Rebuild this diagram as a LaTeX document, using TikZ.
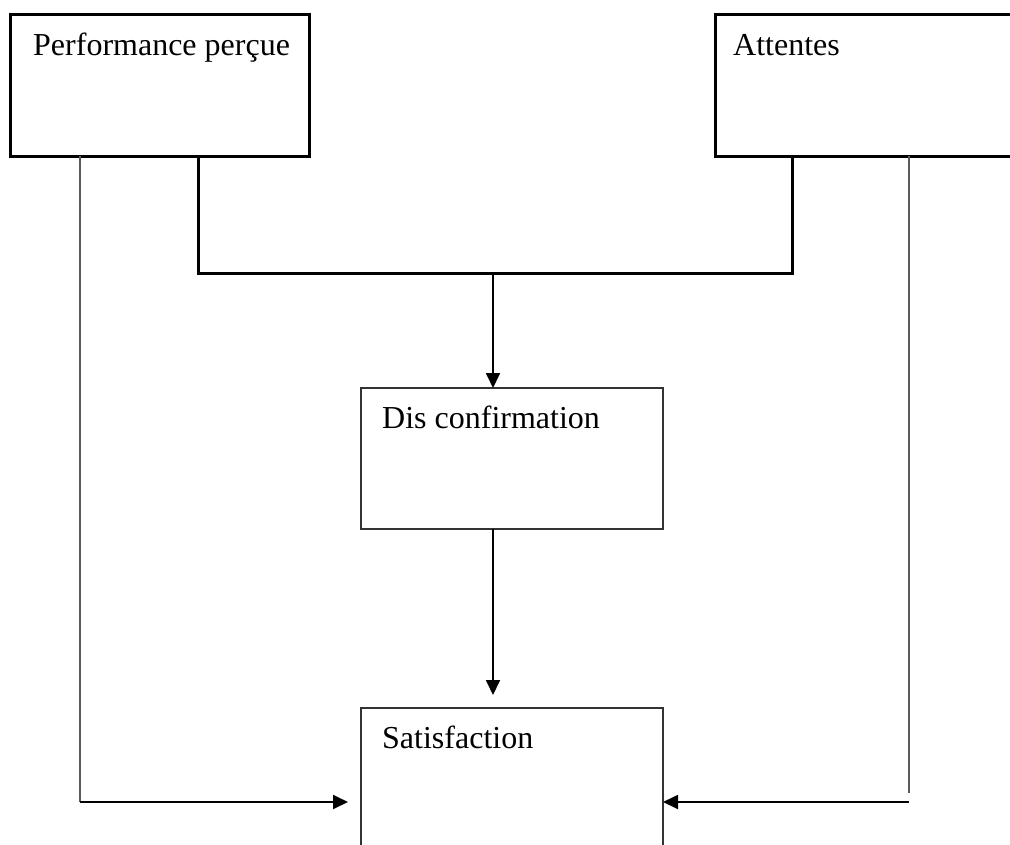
\documentclass[tikz,border=0pt]{standalone}
\usepackage{fontspec}
\setmainfont{Liberation Serif}
\usetikzlibrary{arrows.meta}
\begin{document}
\begin{tikzpicture}[x=1pt,y=-1pt,
  heavybox/.style={draw=black,line width=3pt},
  lightbox/.style={draw=black!80,line width=1.6pt},
  boxtext/.style={anchor=base west,inner sep=0pt,font=\fontsize{32}{36}\selectfont},
  feed/.style={draw=black,line width=3pt},
  arr/.style={draw=black,line width=1.8pt,-{Triangle[length=15pt,width=14pt]}},
  side/.style={draw=black!65,line width=2pt}]
\useasboundingbox (0,0) rectangle (1010,844);
\clip (0,0) rectangle (1010,844);
\fill[white] (0,0) rectangle (1010,844);

% boxes
\draw[heavybox] (10,14) rectangle (309,156);
\node[boxtext] (perf) at (33,55) {Performance perçue};
\draw[heavybox] (715,14) rectangle (1040,156);
\node[boxtext] (att) at (733,55) {Attentes};
\draw[lightbox] (361,388) rectangle (663,529);
\node[boxtext] (dis) at (382,428) {Dis confirmation};
\draw[lightbox] (361,708) rectangle (663,900);
\node[boxtext] (sat) at (382,748) {Satisfaction};

% anchor points on box borders
\coordinate (pL) at (80,156);
\coordinate (pR) at (198,156);
\coordinate (aL) at (792,156);
\coordinate (aR) at (909,156);
\coordinate (j) at (493,273);
\coordinate (disTop) at (493,388);
\coordinate (disBot) at (493,529);
\coordinate (satTop) at (493,708);
\coordinate (lEnd) at (80,802);
\coordinate (satL) at (361,802);
\coordinate (rEnd) at (909,793);
\coordinate (rStart) at (909,802);
\coordinate (satR) at (663,802);

% connectors
\draw[feed] (pR) |- (j) -| (aL);
\draw[arr] (j) -- (disTop);
\draw[arr,shorten >=13pt] (disBot) -- (satTop);
\draw[side] (pL) -- (lEnd);
\draw[arr,shorten >=13pt] (lEnd) -- (satL);
\draw[side] (aR) -- (rEnd);
\draw[arr] (rStart) -- (satR);
\end{tikzpicture}
\end{document}
